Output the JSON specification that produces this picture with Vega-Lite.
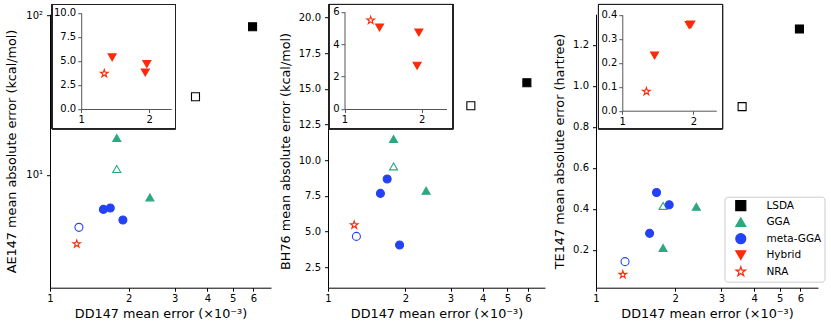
{
  "$schema": "https://vega.github.io/schema/vega-lite/v6.json",
  "background": "white",
  "padding": {"left": 5, "top": 3.2, "right": 5, "bottom": 5},
  "datasets": {
    "pts": [
      {"family": "LSDA", "open": false, "dd": 5.95, "ae": 84.9, "bh": 15.43, "te": 1.278},
      {"family": "LSDA", "open": true, "dd": 3.6, "ae": 30.9, "bh": 13.82, "te": 0.899},
      {"family": "GGA", "open": false, "dd": 1.8, "ae": 17.05, "bh": 11.49, "te": 0.21},
      {"family": "GGA", "open": true, "dd": 1.8, "ae": 10.9, "bh": 9.57, "te": 0.415},
      {"family": "GGA", "open": false, "dd": 2.41, "ae": 7.24, "bh": 7.87, "te": 0.411},
      {"family": "meta-GGA", "open": false, "dd": 1.6, "ae": 6.09, "bh": 7.68, "te": 0.281},
      {"family": "meta-GGA", "open": false, "dd": 1.7, "ae": 6.21, "bh": 8.69, "te": 0.48},
      {"family": "meta-GGA", "open": false, "dd": 1.9, "ae": 5.23, "bh": 4.07, "te": 0.42},
      {"family": "meta-GGA", "open": true, "dd": 1.29, "ae": 4.7, "bh": 4.67, "te": 0.143},
      {"family": "Hybrid", "open": false, "dd": 1.37, "ae": 5.38, "bh": 5.03, "te": 0.23},
      {"family": "Hybrid", "open": false, "dd": 1.95, "ae": 4.69, "bh": 4.72, "te": 0.359},
      {"family": "Hybrid", "open": false, "dd": 1.92, "ae": 3.81, "bh": 2.67, "te": 0.357},
      {"family": "NRA", "open": true, "dd": 1.265, "ae": 3.7, "bh": 5.47, "te": 0.08}
    ]
  },
  "data": {"name": "pts"},
  "spacing": 8,
  "resolve": {
    "scale": {"shape": "independent", "fill": "independent", "stroke": "independent"},
    "legend": {"shape": "independent", "fill": "independent", "stroke": "independent"}
  },
  "hconcat": [
    {
      "width": 221,
      "height": 273.5,
      "resolve": {"scale": {"x": "independent", "y": "independent"}, "axis": {"x": "independent", "y": "independent"}},
      "layer": [
        {
          "transform": [{"filter": "datum.family != 'Hybrid'"}],
          "mark": {"type": "point", "opacity": 1, "strokeWidth": 1.1, "size": 64},
          "encoding": {
            "x": {"field": "dd", "type": "quantitative", "scale": {"type": "log", "domain": [1, 7], "nice": false}, "axis": {"values": [1, 2, 3, 4, 5, 6], "format": "d", "title": "DD147 mean error (×10⁻³)", "labelPadding": 2, "titlePadding": 4}},
            "y": {"field": "ae", "type": "quantitative", "scale": {"type": "log", "domain": [1.968, 101.7], "nice": false}, "axis": {"values": [10, 100], "labelExpr": "datum.value == 10 ? '10¹' : '10²'", "title": "AE147 mean absolute error (kcal/mol)", "labelPadding": 4, "titlePadding": 7}},
            "shape": {"field": "family", "type": "nominal", "scale": {"domain": ["LSDA", "GGA", "meta-GGA", "Hybrid", "NRA"], "range": ["square", "triangle-up", "circle", "triangle-down", "M0,-1L0.2245,-0.309L0.9511,-0.309L0.3633,0.118L0.5878,0.809L0,0.382L-0.5878,0.809L-0.3633,0.118L-0.9511,-0.309L-0.2245,-0.309Z"]}, "legend": null},
            "stroke": {"field": "family", "type": "nominal", "scale": {"domain": ["LSDA", "GGA", "meta-GGA", "Hybrid", "NRA"], "range": ["#000000", "#2ca880", "#2442f5", "#fb2b0a", "#fb2b0a"]}, "legend": null},
            "fill": {"condition": {"test": "datum.open", "value": "white"}, "field": "family", "type": "nominal", "scale": {"domain": ["LSDA", "GGA", "meta-GGA", "Hybrid", "NRA"], "range": ["#000000", "#2ca880", "#2442f5", "#fb2b0a", "white"]}, "legend": null}
          }
        },
        {
          "layer": [
            {
              "mark": {"type": "rect", "fill": "white", "fillOpacity": 0, "stroke": "#222222", "strokeWidth": 1},
              "encoding": {
                "x": {"datum": 0.743, "type": "quantitative", "scale": {"type": "log", "domain": [1, 2.5], "nice": false, "range": [31.2, 121.2]}, "axis": {"orient": "bottom", "offset": -178.7, "values": [1, 2], "format": "d", "title": null, "zindex": 1, "domainColor": "#555555", "tickColor": "#555555", "labelPadding": 2}},
                "x2": {"datum": 2.612},
                "y": {"datum": 10.885, "type": "quantitative", "scale": {"domain": [0, 10], "nice": false, "zero": false, "range": [94.8, -1.2]}, "axis": {"orient": "left", "offset": -31.2, "values": [0, 2.5, 5, 7.5, 10], "format": ".1f", "title": null, "zindex": 1, "domainColor": "#555555", "tickColor": "#555555", "labelPadding": 2}},
                "y2": {"datum": -2.052}
              }
            },
            {
              "transform": [{"filter": "datum.family == 'Hybrid' || datum.family == 'NRA'"}],
              "mark": {"type": "point", "opacity": 1, "strokeWidth": 1.1, "size": 64},
              "encoding": {
                "x": {"field": "dd", "type": "quantitative", "scale": {"type": "log", "domain": [1, 2.5], "nice": false, "range": [31.2, 121.2]}, "axis": {"orient": "bottom", "offset": -178.7, "values": [1, 2], "format": "d", "title": null, "zindex": 1, "domainColor": "#555555", "tickColor": "#555555", "labelPadding": 2}},
                "y": {"field": "ae", "type": "quantitative", "scale": {"domain": [0, 10], "nice": false, "zero": false, "range": [94.8, -1.2]}, "axis": {"orient": "left", "offset": -31.2, "values": [0, 2.5, 5, 7.5, 10], "format": ".1f", "title": null, "zindex": 1, "domainColor": "#555555", "tickColor": "#555555", "labelPadding": 2}},
                "shape": {"field": "family", "type": "nominal", "scale": {"domain": ["LSDA", "GGA", "meta-GGA", "Hybrid", "NRA"], "range": ["square", "triangle-up", "circle", "triangle-down", "M0,-1L0.2245,-0.309L0.9511,-0.309L0.3633,0.118L0.5878,0.809L0,0.382L-0.5878,0.809L-0.3633,0.118L-0.9511,-0.309L-0.2245,-0.309Z"]}, "legend": null},
                "stroke": {"field": "family", "type": "nominal", "scale": {"domain": ["LSDA", "GGA", "meta-GGA", "Hybrid", "NRA"], "range": ["#000000", "#2ca880", "#2442f5", "#fb2b0a", "#fb2b0a"]}, "legend": null},
                "fill": {"condition": {"test": "datum.open", "value": "white"}, "field": "family", "type": "nominal", "scale": {"domain": ["LSDA", "GGA", "meta-GGA", "Hybrid", "NRA"], "range": ["#000000", "#2ca880", "#2442f5", "#fb2b0a", "white"]}, "legend": null}
              }
            }
          ]
        }
      ]
    },
    {
      "width": 217,
      "height": 273.5,
      "resolve": {"scale": {"x": "independent", "y": "independent"}, "axis": {"x": "independent", "y": "independent"}},
      "layer": [
        {
          "transform": [{"filter": "datum.family != 'Hybrid'"}],
          "mark": {"type": "point", "opacity": 1, "strokeWidth": 1.1, "size": 64},
          "encoding": {
            "x": {"field": "dd", "type": "quantitative", "scale": {"type": "log", "domain": [1, 7], "nice": false}, "axis": {"values": [1, 2, 3, 4, 5, 6], "format": "d", "title": "DD147 mean error (×10⁻³)", "labelPadding": 2, "titlePadding": 4}},
            "y": {"field": "bh", "type": "quantitative", "scale": {"domain": [1.079, 20.224], "nice": false, "zero": false}, "axis": {"values": [2.5, 5, 7.5, 10, 12.5, 15, 17.5, 20], "format": ".1f", "title": "BH76 mean absolute error (kcal/mol)", "labelPadding": 4, "titlePadding": 5.7}},
            "shape": {"field": "family", "type": "nominal", "scale": {"domain": ["LSDA", "GGA", "meta-GGA", "Hybrid", "NRA"], "range": ["square", "triangle-up", "circle", "triangle-down", "M0,-1L0.2245,-0.309L0.9511,-0.309L0.3633,0.118L0.5878,0.809L0,0.382L-0.5878,0.809L-0.3633,0.118L-0.9511,-0.309L-0.2245,-0.309Z"]}, "legend": null},
            "stroke": {"field": "family", "type": "nominal", "scale": {"domain": ["LSDA", "GGA", "meta-GGA", "Hybrid", "NRA"], "range": ["#000000", "#2ca880", "#2442f5", "#fb2b0a", "#fb2b0a"]}, "legend": null},
            "fill": {"condition": {"test": "datum.open", "value": "white"}, "field": "family", "type": "nominal", "scale": {"domain": ["LSDA", "GGA", "meta-GGA", "Hybrid", "NRA"], "range": ["#000000", "#2ca880", "#2442f5", "#fb2b0a", "white"]}, "legend": null}
          }
        },
        {
          "layer": [
            {
              "mark": {"type": "rect", "fill": "white", "fillOpacity": 0, "stroke": "#222222", "strokeWidth": 1},
              "encoding": {
                "x": {"datum": 0.868, "type": "quantitative", "scale": {"type": "log", "domain": [1, 2.5], "nice": false, "range": [16.5, 118.5]}, "axis": {"orient": "bottom", "offset": -178.7, "values": [1, 2], "format": "d", "title": null, "zindex": 1, "domainColor": "#555555", "tickColor": "#555555", "labelPadding": 2}},
                "x2": {"datum": 2.656},
                "y": {"datum": 6.444, "type": "quantitative", "scale": {"domain": [0, 6], "nice": false, "zero": false, "range": [94.8, -2.5]}, "axis": {"orient": "left", "offset": -16.5, "values": [0, 2, 4, 6], "format": "d", "title": null, "zindex": 1, "domainColor": "#555555", "tickColor": "#555555", "labelPadding": 2}},
                "y2": {"datum": -1.215}
              }
            },
            {
              "transform": [{"filter": "datum.family == 'Hybrid' || datum.family == 'NRA'"}],
              "mark": {"type": "point", "opacity": 1, "strokeWidth": 1.1, "size": 64},
              "encoding": {
                "x": {"field": "dd", "type": "quantitative", "scale": {"type": "log", "domain": [1, 2.5], "nice": false, "range": [16.5, 118.5]}, "axis": {"orient": "bottom", "offset": -178.7, "values": [1, 2], "format": "d", "title": null, "zindex": 1, "domainColor": "#555555", "tickColor": "#555555", "labelPadding": 2}},
                "y": {"field": "bh", "type": "quantitative", "scale": {"domain": [0, 6], "nice": false, "zero": false, "range": [94.8, -2.5]}, "axis": {"orient": "left", "offset": -16.5, "values": [0, 2, 4, 6], "format": "d", "title": null, "zindex": 1, "domainColor": "#555555", "tickColor": "#555555", "labelPadding": 2}},
                "shape": {"field": "family", "type": "nominal", "scale": {"domain": ["LSDA", "GGA", "meta-GGA", "Hybrid", "NRA"], "range": ["square", "triangle-up", "circle", "triangle-down", "M0,-1L0.2245,-0.309L0.9511,-0.309L0.3633,0.118L0.5878,0.809L0,0.382L-0.5878,0.809L-0.3633,0.118L-0.9511,-0.309L-0.2245,-0.309Z"]}, "legend": null},
                "stroke": {"field": "family", "type": "nominal", "scale": {"domain": ["LSDA", "GGA", "meta-GGA", "Hybrid", "NRA"], "range": ["#000000", "#2ca880", "#2442f5", "#fb2b0a", "#fb2b0a"]}, "legend": null},
                "fill": {"condition": {"test": "datum.open", "value": "white"}, "field": "family", "type": "nominal", "scale": {"domain": ["LSDA", "GGA", "meta-GGA", "Hybrid", "NRA"], "range": ["#000000", "#2ca880", "#2442f5", "#fb2b0a", "white"]}, "legend": null}
              }
            }
          ]
        }
      ]
    },
    {
      "width": 222,
      "height": 273.5,
      "resolve": {"scale": {"x": "independent", "y": "independent"}, "axis": {"x": "independent", "y": "independent"}},
      "layer": [
        {
          "transform": [{"filter": "datum.family != 'Hybrid'"}],
          "mark": {"type": "point", "opacity": 1, "strokeWidth": 1.1, "size": 64},
          "encoding": {
            "x": {"field": "dd", "type": "quantitative", "scale": {"type": "log", "domain": [1, 7], "nice": false}, "axis": {"values": [1, 2, 3, 4, 5, 6], "format": "d", "title": "DD147 mean error (×10⁻³)", "labelPadding": 2, "titlePadding": 4}},
            "y": {"field": "te", "type": "quantitative", "scale": {"domain": [0.016, 1.35], "nice": false, "zero": false}, "axis": {"values": [0.2, 0.4, 0.6, 0.8, 1.0, 1.2], "format": ".1f", "title": "TE147 mean absolute error (hartree)", "labelPadding": 4, "titlePadding": 6.4}},
            "shape": {"field": "family", "type": "nominal", "scale": {"domain": ["LSDA", "GGA", "meta-GGA", "Hybrid", "NRA"], "range": ["square", "triangle-up", "circle", "triangle-down", "M0,-1L0.2245,-0.309L0.9511,-0.309L0.3633,0.118L0.5878,0.809L0,0.382L-0.5878,0.809L-0.3633,0.118L-0.9511,-0.309L-0.2245,-0.309Z"]}, "legend": {"orient": "none", "legendX": 128.5, "legendY": 182.5, "title": null, "padding": 3, "rowPadding": 1.5, "symbolOffset": 7.3, "labelOffset": 19.7, "symbolSize": 100, "symbolStrokeWidth": 1.2, "labelFontSize": 10.5, "labelFont": "DejaVu Sans", "labelColor": "#000000", "strokeColor": "#cccccc", "cornerRadius": 3, "fillColor": "white"}},
            "stroke": {"field": "family", "type": "nominal", "scale": {"domain": ["LSDA", "GGA", "meta-GGA", "Hybrid", "NRA"], "range": ["#000000", "#2ca880", "#2442f5", "#fb2b0a", "#fb2b0a"]}, "legend": {"orient": "none", "legendX": 128.5, "legendY": 182.5, "title": null, "padding": 3, "rowPadding": 1.5, "symbolOffset": 7.3, "labelOffset": 19.7, "symbolSize": 100, "symbolStrokeWidth": 1.2, "labelFontSize": 10.5, "labelFont": "DejaVu Sans", "labelColor": "#000000", "strokeColor": "#cccccc", "cornerRadius": 3, "fillColor": "white"}},
            "fill": {"condition": {"test": "datum.open", "value": "white"}, "field": "family", "type": "nominal", "scale": {"domain": ["LSDA", "GGA", "meta-GGA", "Hybrid", "NRA"], "range": ["#000000", "#2ca880", "#2442f5", "#fb2b0a", "white"]}, "legend": {"orient": "none", "legendX": 128.5, "legendY": 182.5, "title": null, "padding": 3, "rowPadding": 1.5, "symbolOffset": 7.3, "labelOffset": 19.7, "symbolSize": 100, "symbolStrokeWidth": 1.2, "labelFontSize": 10.5, "labelFont": "DejaVu Sans", "labelColor": "#000000", "strokeColor": "#cccccc", "cornerRadius": 3, "fillColor": "white"}}
          }
        },
        {
          "layer": [
            {
              "mark": {"type": "rect", "fill": "white", "fillOpacity": 0, "stroke": "#222222", "strokeWidth": 1},
              "encoding": {
                "x": {"datum": 0.793, "type": "quantitative", "scale": {"type": "log", "domain": [1, 2.5], "nice": false, "range": [26.3, 120.3]}, "axis": {"orient": "bottom", "offset": -177, "values": [1, 2], "format": "d", "title": null, "zindex": 1, "domainColor": "#555555", "tickColor": "#555555", "labelPadding": 2}},
                "x2": {"datum": 2.657},
                "y": {"datum": 0.4425, "type": "quantitative", "scale": {"domain": [0, 0.4], "nice": false, "zero": false, "range": [96.5, 0.5]}, "axis": {"orient": "left", "offset": -26.3, "values": [0, 0.1, 0.2, 0.3, 0.4], "format": ".1f", "title": null, "zindex": 1, "domainColor": "#555555", "tickColor": "#555555", "labelPadding": 2}},
                "y2": {"datum": -0.075}
              }
            },
            {
              "transform": [{"filter": "datum.family == 'Hybrid' || datum.family == 'NRA'"}],
              "mark": {"type": "point", "opacity": 1, "strokeWidth": 1.1, "size": 64},
              "encoding": {
                "x": {"field": "dd", "type": "quantitative", "scale": {"type": "log", "domain": [1, 2.5], "nice": false, "range": [26.3, 120.3]}, "axis": {"orient": "bottom", "offset": -177, "values": [1, 2], "format": "d", "title": null, "zindex": 1, "domainColor": "#555555", "tickColor": "#555555", "labelPadding": 2}},
                "y": {"field": "te", "type": "quantitative", "scale": {"domain": [0, 0.4], "nice": false, "zero": false, "range": [96.5, 0.5]}, "axis": {"orient": "left", "offset": -26.3, "values": [0, 0.1, 0.2, 0.3, 0.4], "format": ".1f", "title": null, "zindex": 1, "domainColor": "#555555", "tickColor": "#555555", "labelPadding": 2}},
                "shape": {"field": "family", "type": "nominal", "scale": {"domain": ["LSDA", "GGA", "meta-GGA", "Hybrid", "NRA"], "range": ["square", "triangle-up", "circle", "triangle-down", "M0,-1L0.2245,-0.309L0.9511,-0.309L0.3633,0.118L0.5878,0.809L0,0.382L-0.5878,0.809L-0.3633,0.118L-0.9511,-0.309L-0.2245,-0.309Z"]}, "legend": null},
                "stroke": {"field": "family", "type": "nominal", "scale": {"domain": ["LSDA", "GGA", "meta-GGA", "Hybrid", "NRA"], "range": ["#000000", "#2ca880", "#2442f5", "#fb2b0a", "#fb2b0a"]}, "legend": null},
                "fill": {"condition": {"test": "datum.open", "value": "white"}, "field": "family", "type": "nominal", "scale": {"domain": ["LSDA", "GGA", "meta-GGA", "Hybrid", "NRA"], "range": ["#000000", "#2ca880", "#2442f5", "#fb2b0a", "white"]}, "legend": null}
              }
            }
          ]
        }
      ]
    }
  ],
  "config": {
    "view": {"stroke": null},
    "font": "DejaVu Sans",
    "axis": {
      "labelFont": "DejaVu Sans",
      "titleFont": "DejaVu Sans",
      "labelFontSize": 10,
      "titleFontSize": 12.8,
      "titleFontWeight": "normal",
      "labelColor": "#000000",
      "titleColor": "#000000",
      "domainColor": "#000000",
      "tickColor": "#000000",
      "domainWidth": 1,
      "tickWidth": 1,
      "tickSize": 3.5,
      "grid": false,
      "labelFlush": false,
      "labelOverlap": false
    }
  }
}
